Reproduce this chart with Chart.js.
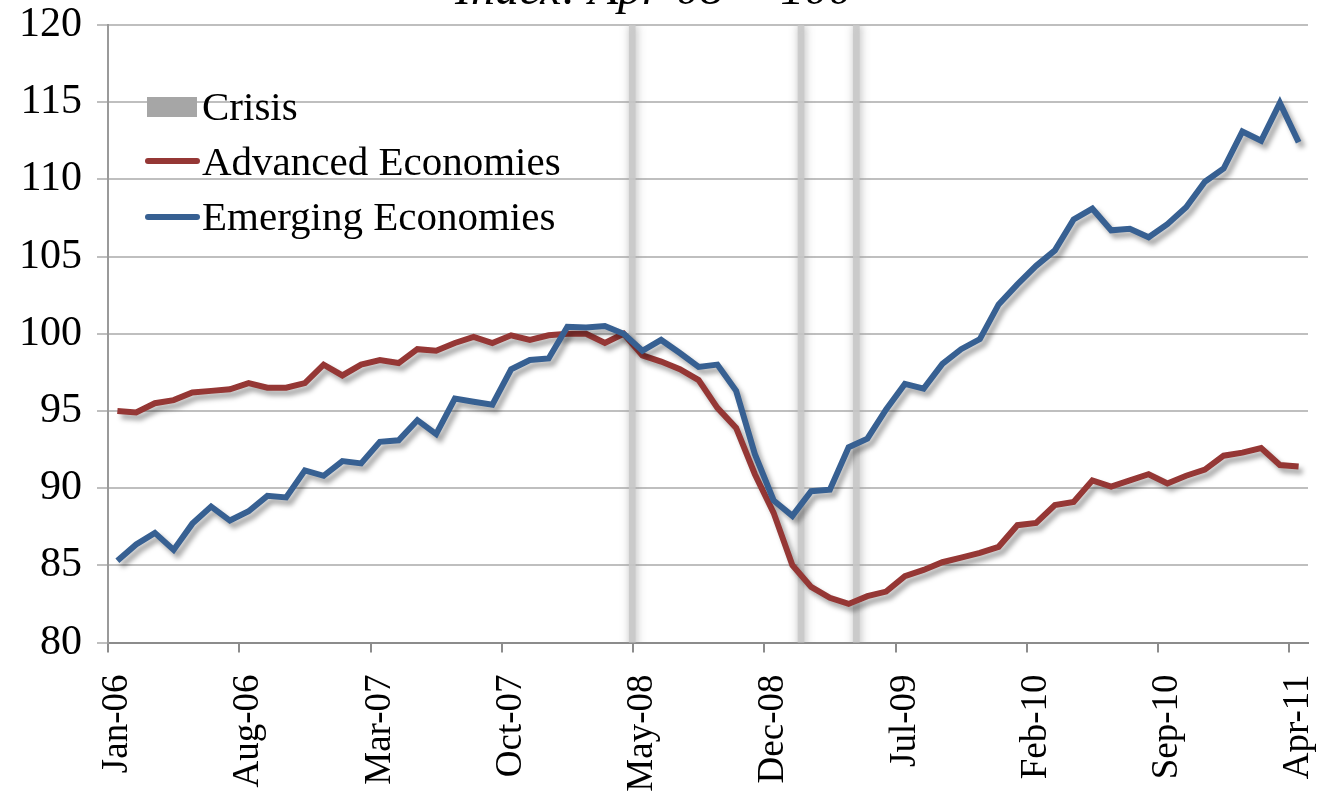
<!DOCTYPE html>
<html>
<head>
<meta charset="utf-8">
<script src="https://cdn.jsdelivr.net/npm/chart.js@4.4.0/dist/chart.umd.min.js"></script>
<style>
    html, body { margin: 0; padding: 0; background: #fff; overflow: hidden; }
    #wrap { position: relative; width: 1319px; height: 794px; }
    #titulo {
        position: absolute; left: 455px; top: -36px; white-space: nowrap;
        font: italic 48px/48px "Liberation Serif", "Times New Roman", serif; color: #000;
    }
    .ley { position: absolute; left: 202px; font: 41px/41px "Liberation Serif", "Times New Roman", serif; color: #000; white-space: nowrap; }
    .caja { position: absolute; left: 147px; top: 97px; width: 50px; height: 20px; background: #a6a6a6; }
    .linea { position: absolute; left: 145px; width: 55px; height: 6px; border-radius: 3px; }
</style>
</head>
<body>
<div id="wrap">
    <canvas id="grafico" width="1319" height="794"></canvas>
    <div id="titulo">Index: Apr-08 = 100</div>
    <div class="caja"></div>
    <div class="ley" style="top:86px">Crisis</div>
    <div class="linea" style="top:158px; background:#953735"></div>
    <div class="ley" style="top:141px">Advanced Economies</div>
    <div class="linea" style="top:214px; background:#376092"></div>
    <div class="ley" style="top:196px">Emerging Economies</div>
</div>
<script>
// meses Jan-06 .. Apr-11
let meses = [];
let nombres = ['Jan','Feb','Mar','Apr','May','Jun','Jul','Aug','Sep','Oct','Nov','Dec'];
for (let a = 6; a <= 11; a++) {
    for (let m = 0; m < 12; m++) {
        if (a == 11 && m > 3) break;
        meses.push(nombres[m] + '-' + (a < 10 ? '0' + a : a));
    }
}

let avanzadas = [
    95.0, 94.9, 95.5, 95.7, 96.2, 96.3, 96.4, 96.8, 96.5, 96.5,
    96.8, 98.0, 97.3, 98.0, 98.3, 98.1, 99.0, 98.9, 99.4, 99.8,
    99.4, 99.9, 99.6, 99.9, 100.0, 100.0, 99.4, 100.0, 98.6, 98.2,
    97.7, 97.0, 95.2, 93.9, 90.9, 88.4, 85.0, 83.6, 82.9, 82.5,
    83.0, 83.3, 84.3, 84.7, 85.2, 85.5, 85.8, 86.2, 87.6, 87.75,
    88.9, 89.1, 90.5, 90.1, 90.5, 90.9, 90.3, 90.8, 91.2, 92.1,
    92.3, 92.6, 91.5, 91.4
];

let emergentes = [
    85.3, 86.35, 87.1, 86.0, 87.7, 88.8, 87.9, 88.5, 89.5, 89.4,
    91.15, 90.8, 91.75, 91.6, 93.0, 93.1, 94.4, 93.5, 95.8, 95.6,
    95.4, 97.7, 98.3, 98.4, 100.45, 100.4, 100.5, 100.0, 98.9, 99.6,
    98.75, 97.85, 98.0, 96.3, 92.2, 89.2, 88.2, 89.8, 89.9, 92.65,
    93.2, 95.1, 96.75, 96.45, 98.05, 99.0, 99.65, 101.9, 103.2, 104.4,
    105.4, 107.4, 108.1, 106.7, 106.8, 106.25, 107.1, 108.2, 109.85, 110.7,
    113.1, 112.5, 114.95, 112.4
];

// crisis dates, in months since Jan-06
let crisis = [27.3, 36.3, 39.25];

let marcasY = [80, 85, 90, 95, 100, 105, 110, 115, 120];

let fuente = '"Liberation Serif", "Times New Roman", serif';

const sombra = {
    id: 'sombra',
    beforeDatasetDraw(chart, args) {
        const ctx = chart.ctx;
        ctx.save();
        if (args.meta.type === 'bar') {
            ctx.shadowColor = 'rgba(160,160,160,0.9)';
            ctx.shadowBlur = 8;
            ctx.shadowOffsetX = 1;
        } else {
            ctx.shadowColor = 'rgba(0,0,0,0.35)';
            ctx.shadowBlur = 5;
            ctx.shadowOffsetX = 4;
            ctx.shadowOffsetY = 5;
        }
    },
    afterDatasetDraw(chart) {
        chart.ctx.restore();
    }
};

let graf = new Chart(document.getElementById('grafico'), {
    data: {
        labels: meses,
        datasets: [{
            type: 'line',
            label: 'Advanced Economies',
            data: avanzadas,
            borderColor: '#953735',
            borderWidth: 6,
            pointRadius: 0,
            tension: 0,
            order: 1
        }, {
            type: 'line',
            label: 'Emerging Economies',
            data: emergentes,
            borderColor: '#376092',
            borderWidth: 6,
            pointRadius: 0,
            tension: 0,
            order: 0
        }, {
            type: 'bar',
            label: 'Crisis',
            xAxisID: 'xc',
            data: crisis.map(c => ({x: c, y: 120})),
            backgroundColor: 'rgba(200,200,200,0.85)',
            barThickness: 6,
            order: 2
        }]
    },
    options: {
        responsive: false,
        animation: false,
        layout: { padding: { top: 25, right: 11, left: 0, bottom: 0 } },
        plugins: { legend: { display: false }, tooltip: { enabled: false } },
        scales: {
            x: {
                type: 'category',
                offset: true,
                grid: {
                    offset: true,
                    drawOnChartArea: false,
                    drawTicks: true,
                    tickLength: 10,
                    lineWidth: 2,
                    color: c => (c.index % 7 === 0 ? '#8c8c8c' : 'rgba(0,0,0,0)')
                },
                border: { color: '#8c8c8c', width: 2 },
                ticks: {
                    autoSkip: false,
                    minRotation: 90,
                    maxRotation: 90,
                    padding: 22,
                    color: '#000',
                    font: { family: fuente, size: 37 },
                    callback: (v, i) => (i % 7 === 0 ? meses[i] : '')
                },
                afterFit: s => { s.height = 151.5; s.paddingLeft = 0; s.paddingRight = 0; }
            },
            xc: {
                type: 'linear',
                display: false,
                offset: false,
                min: -0.5,
                max: 63.5
            },
            y: {
                min: 80,
                max: 120,
                afterBuildTicks: s => { s.ticks = marcasY.map(v => ({value: v})); },
                grid: { color: '#bfbfbf', lineWidth: 2, tickLength: 11 },
                border: { color: '#9a9a9a', width: 2 },
                ticks: {
                    padding: 15,
                    color: '#000',
                    font: { family: fuente, size: 42 }
                },
                afterFit: s => { s.width = 108; s.paddingTop = 0; s.paddingBottom = 0; }
            }
        }
    },
    plugins: [sombra]
});
</script>
</body>
</html>
